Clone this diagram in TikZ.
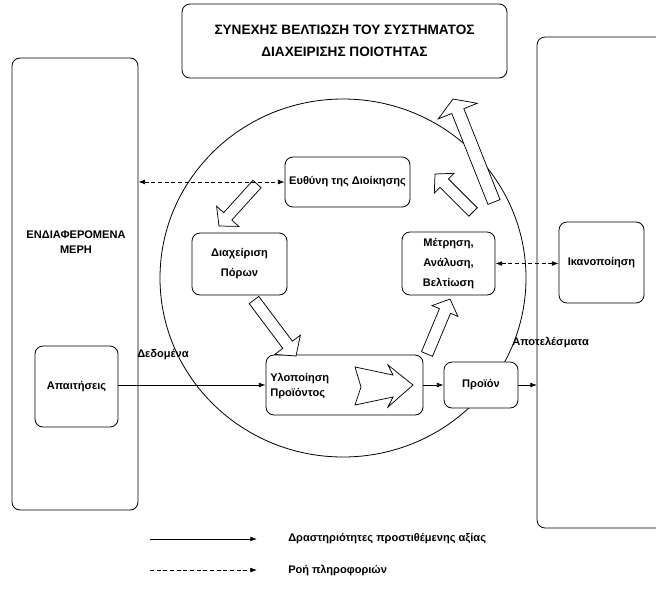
\documentclass[tikz,border=0pt]{standalone}
\usepackage{fontspec}
\setmainfont{Liberation Sans}
\usetikzlibrary{arrows.meta,calc}
\newcommand\dfont{\fontsize{8.3pt}{15pt}\selectfont\bfseries}
\newcommand\dfonttight{\fontsize{8.3pt}{11.25pt}\selectfont\bfseries}
\newcommand\tfont{\fontsize{10.2pt}{16.5pt}\selectfont\bfseries}
% tail x, tail y, tip x, tip y, shaft half width, head half width, head length (px)
\newcommand\blockarrow[7]{%
  \pgfmathsetmacro\baang{atan2(-(#4-#2),#3-#1)}%
  \pgfmathsetmacro\balen{veclen(#3-#1,#4-#2)}%
  \pgfmathsetmacro\babase{\balen-#7}%
  \begin{scope}[shift={(#1,#2)},rotate=\baang]
    \draw[barrow] (0,-#5) -- (\babase,-#5) -- (\babase,-#6) -- (\balen,0)
      -- (\babase,#6) -- (\babase,#5) -- (0,#5) -- cycle;
  \end{scope}}
\begin{document}
\begin{tikzpicture}[x=0.75pt,y=-0.75pt,
  rbox/.style={draw, rounded corners=6pt, fill=white, line width=0.6pt, inner sep=1pt, align=center, font=\dfont},
  barrow/.style={draw, fill=white, line width=0.55pt, line join=miter},
  flow/.style={-{Latex[length=5pt,width=3.6pt]}, line width=0.6pt},
  info/.style={{Latex[length=5pt,width=3.6pt]}-{Latex[length=5pt,width=3.6pt]}, dash pattern=on 3pt off 2pt, line width=0.55pt},
  infoone/.style={-{Latex[length=5pt,width=3.6pt]}, dash pattern=on 3pt off 2pt, line width=0.55pt},
  lbl/.style={font=\dfont, inner sep=0pt, anchor=west}]
\useasboundingbox (0,0) rectangle (656,589);

% circle
\draw[line width=0.6pt] (343,278) ellipse [x radius=137.25pt, y radius=134.25pt];

% title
\node[rbox, minimum width=243.75pt, minimum height=55.5pt, font=\tfont] (title) at (344.5,41)
  {ΣΥΝΕΧΗΣ ΒΕΛΤΙΩΣΗ ΤΟΥ ΣΥΣΤΗΜΑΤΟΣ\\ΔΙΑΧΕΙΡΙΣΗΣ ΠΟΙΟΤΗΤΑΣ};

% left stakeholders box
\node[rbox, minimum width=94.5pt, minimum height=339pt] (left) at (75,284) {};
\node[font=\dfonttight, align=center, inner sep=0pt] (stake) at (76,242) {ΕΝΔΙΑΦΕΡΟΜΕΝΑ\\ΜΕΡΗ};
\node[rbox, minimum width=62.25pt, minimum height=60.75pt] (apait) at (76.5,386.5) {Απαιτήσεις};

% right box (open to the right)
\draw[line width=0.6pt, rounded corners=6pt] (662,37) -- (537,37) -- (537,528) -- (662,528);
\coordinate (rbx) at (537,385);
\node[rbox, minimum width=63.75pt, minimum height=60.75pt] (ikan) at (601.5,262.5) {Ικανοποίηση};

% inner boxes
\node[rbox, minimum width=93.75pt, minimum height=37.5pt] (ev) at (347.5,182) {Ευθύνη της Διοίκησης};
\node[rbox, minimum width=71.25pt, minimum height=46.5pt] (diax) at (239.5,264) {Διαχείριση\\Πόρων};
\node[rbox, minimum width=69.75pt, minimum height=47.25pt] (metr) at (448.5,263.5) {Μέτρηση,\\Ανάλυση,\\Βελτίωση};
\node[rbox, minimum width=117.75pt, minimum height=45pt] (ylop) at (344.5,385) {};
\node[lbl, align=left, font=\dfonttight] (yltext) at (270,386) {Υλοποίηση\\Προϊόντος};
\node[rbox, minimum width=55.5pt, minimum height=34.5pt] (proion) at (481,385) {Προϊόν};

% arrow inside Υλοποίηση
\draw[barrow] (355,367) -- (393,375) -- (388,365) -- (413,385) -- (388,407) -- (393,397) -- (355,405) -- (361,387) -- cycle;

% block arrows of the cycle
\blockarrow{257}{184}{219}{226}{5.5}{15}{13}
\blockarrow{254}{300}{296}{356}{6}{16}{14}
\blockarrow{427}{354}{450}{299}{6}{14}{13}
\blockarrow{473}{212}{435}{174}{6}{14}{13}
\blockarrow{494}{202}{453}{99}{6.5}{21}{13}

% connectors
\draw[flow] (apait.east |- ylop.west) -- (ylop.west);
\draw[flow] (ylop.east) -- (proion.west);
\draw[flow] (proion.east) -- (rbx);
\draw[info] (ev.west -| left.east) -- (ev.west);
\draw[info] (metr.east) -- (metr.east -| ikan.west);

% labels
\node[lbl] (dedom) at (137,355) {Δεδομένα};
\node[lbl] (apot) at (512,342) {Αποτελέσματα};

% legend
\coordinate (la) at (150,539);
\coordinate (lb) at (257,539);
\coordinate (lc) at (150,570);
\coordinate (ld) at (257,570);
\draw[flow] (la) -- (lb);
\draw[infoone] (lc) -- (ld);
\node[lbl] (lt1) at (288,539) {Δραστηριότητες προστιθέμενης αξίας};
\node[lbl] (lt2) at (288,570) {Ροή πληροφοριών};
\end{tikzpicture}
\end{document}
